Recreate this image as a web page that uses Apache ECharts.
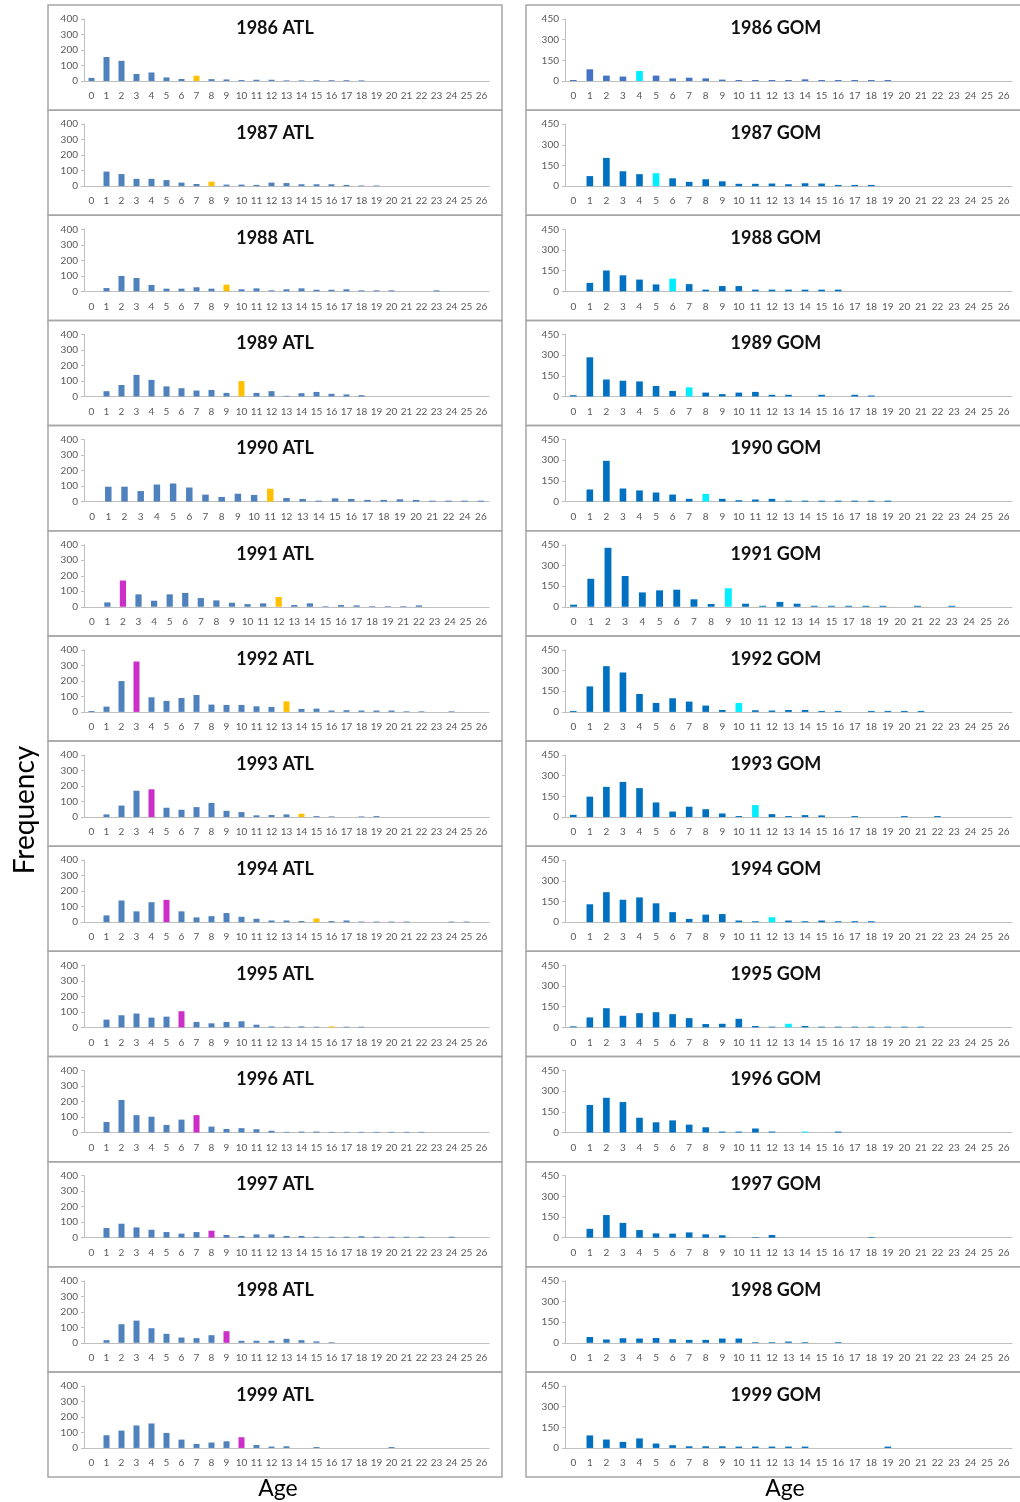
<!DOCTYPE html>
<html>
<head>
<meta charset="utf-8">
<title>Age frequency, ATL and GOM, 1986-1999</title>
<script src="https://cdn.jsdelivr.net/npm/echarts@6/dist/echarts.min.js"></script>
<style>
  html, body { margin: 0; padding: 0; background: #fff; }
  #chart { width: 1020px; height: 1502px; }
</style>
</head>
<body>
<div id="chart"></div>
<script>
// age categories (x axis tick labels)
const ages = ["0","1","2","3","4","5","6","7","8","9","10","11","12","13","14","15","16","17","18","19","20","21","22","23","24","25","26"]
// a few panels skip an age on their axis
const ages1990Atl = ["0","1","2","3","4","5","6","7","8","9","10","11","12","13","14","15","16","17","18","19","20","21","22","24","26"]
const ages1991Atl = ["0","1","2","3","4","5","6","7","8","9","10","11","12","13","14","15","16","17","18","19","21","22","23","24","25","26"]
const ages1991Gom = ["0","1","2","3","4","5","6","7","8","9","10","11","12","13","14","15","17","18","19","20","21","22","23","24","25","26"]

const years = [1986, 1987, 1988, 1989, 1990, 1991, 1992, 1993, 1994, 1995, 1996, 1997, 1998, 1999]

// ATL frequencies by age
const atl1986 = [20,155,130,45,55,23,13,34,12,10,6,8,8,4,4,5,5,5,4,0,0,0,0,0,0,0,0]
const atl1987 = [0,94,78,47,47,39,23,14,29,10,10,8,23,20,12,12,12,8,4,4,0,0,0,0,0,0,0]
const atl1988 = [0,21,99,86,41,17,17,26,17,43,13,19,6,13,19,10,10,13,6,6,6,0,0,6,0,0,0]
const atl1989 = [0,34,74,139,107,65,53,38,42,23,99,23,34,4,21,29,17,13,8,0,0,0,0,0,0,0,0]
const atl1990 = [0,96,96,68,110,117,91,45,30,51,43,83,23,17,6,21,17,11,11,15,11,6,6,6,6]
const atl1991 = [0,28,169,80,39,80,89,56,41,26,17,22,63,11,22,4,11,9,4,4,4,9,0,0,0,0]
const atl1992 = [6,34,199,325,94,71,90,109,47,45,45,36,32,68,19,21,9,11,9,9,9,4,4,0,4,0,0]
const atl1993 = [0,17,74,170,179,60,47,64,91,40,32,11,13,17,21,6,4,0,4,6,0,0,0,0,0,0,0]
const atl1994 = [0,44,140,70,129,144,70,31,39,59,35,22,11,11,7,24,7,11,4,4,4,4,0,0,4,4,0]
const atl1995 = [0,50,78,89,63,69,104,35,26,35,39,17,6,4,6,4,6,4,4,0,0,0,0,0,0,0,0]
const atl1996 = [0,68,210,112,102,49,83,112,38,23,28,21,11,4,6,6,4,4,4,4,4,4,4,0,0,0,0]
const atl1997 = [0,62,90,66,51,36,26,36,45,17,11,21,21,11,11,6,6,6,9,6,6,6,6,0,6,0,0]
const atl1998 = [0,17,120,143,94,58,34,30,49,75,13,13,13,26,17,9,4,0,0,0,0,0,0,0,0,0,0]
const atl1999 = [0,82,112,145,158,97,54,26,35,43,69,19,9,11,0,6,0,0,0,0,6,0,0,0,0,0,0]

// GOM frequencies by age
const gom1986 = [7,85,39,32,73,39,19,24,19,10,7,7,7,7,12,7,7,7,7,7,0,0,0,0,0,0,0]
const gom1987 = [0,73,205,108,87,94,57,31,50,35,17,17,19,14,21,19,9,9,9,0,0,0,0,0,0,0,0]
const gom1988 = [0,61,151,116,85,50,92,52,12,38,38,12,12,12,12,12,12,0,0,0,0,0,0,0,0,0,0]
const gom1989 = [9,284,123,114,109,76,40,66,28,17,28,33,12,12,0,12,0,12,7,0,0,0,0,0,0,0,0]
const gom1990 = [0,88,296,95,81,66,51,20,56,20,10,15,20,7,7,7,7,7,7,7,0,0,0,0,0,0,0]
const gom1991 = [15,203,428,223,104,119,124,54,20,134,22,7,35,22,7,7,7,7,7,0,7,0,7,0,0,0]
const gom1992 = [7,185,332,286,130,65,99,75,46,14,65,12,10,14,14,7,7,0,7,7,7,7,0,0,0,0,0]
const gom1993 = [16,148,219,255,210,106,40,75,57,26,7,87,21,7,14,12,0,7,0,0,7,0,7,0,0,0,0]
const gom1994 = [0,130,218,163,180,137,73,24,55,59,12,7,36,12,7,12,7,7,7,0,0,0,0,0,0,0,0]
const gom1995 = [7,72,139,84,103,110,96,67,24,26,62,10,5,26,10,5,5,5,5,5,5,5,0,0,0,0,0]
const gom1996 = [0,200,252,221,107,74,88,57,38,7,7,29,7,0,7,0,7,0,0,0,0,0,0,0,0,0,0]
const gom1997 = [0,64,164,107,55,31,29,38,24,17,0,4,19,0,0,0,0,0,4,0,0,0,0,0,0,0,0]
const gom1998 = [0,42,24,33,31,35,26,21,21,31,31,5,5,9,5,0,5,0,0,0,0,0,0,0,0,0,0]
const gom1999 = [0,91,61,44,69,32,20,12,12,12,10,10,10,10,10,0,0,0,0,10,0,0,0,0,0,0,0]

// highlighted cohort bars (age per year, null = none)
const atlOrangeAge = [7,8,9,10,11,12,13,14,15,16,null,null,null,null]
const atlMagentaAge = [null,null,null,null,null,2,3,4,5,6,7,8,9,10]
const gomCyanAge = [4,5,6,7,8,9,10,11,12,13,14,null,null,null]

const atlValues = [atl1986, atl1987, atl1988, atl1989, atl1990, atl1991, atl1992, atl1993, atl1994, atl1995, atl1996, atl1997, atl1998, atl1999]
const gomValues = [gom1986, gom1987, gom1988, gom1989, gom1990, gom1991, gom1992, gom1993, gom1994, gom1995, gom1996, gom1997, gom1998, gom1999]

const FONT = "Lato, 'Open Sans', sans-serif"
const ROW_TOP = 5
const ROW_H = 105.15
const AXIS_GRAY = "#BFBFBF"
const LABEL_GRAY = "#595959"

const COLS = [
  { name: "ATL", x: 48, w: 454, gridLeft: 84, gridWidth: 405, titleX: 275, max: 400, interval: 100 },
  { name: "GOM", x: 526, w: 500, gridLeft: 565, gridWidth: 447, titleX: 776, max: 450, interval: 150 }
]

const chart = echarts.init(document.getElementById("chart"))

const grid = []
const xAxis = []
const yAxis = []
const series = []
const graphic = []

function barItems (cats, vals, base, highlights) {
  return vals.map((v, i) => {
    let color = base
    highlights.forEach(h => {
      if (h.age !== null && cats[i] === String(h.age)) color = h.color
    })
    return { value: v, itemStyle: { color: color } }
  })
}

years.forEach((year, row) => {
  const top = ROW_TOP + row * ROW_H
  COLS.forEach((col, c) => {
    const idx = grid.length
    let cats = ages
    if (c === 0 && year === 1990) cats = ages1990Atl
    if (c === 0 && year === 1991) cats = ages1991Atl
    if (c === 1 && year === 1991) cats = ages1991Gom

    let base, highlights, vals
    if (c === 0) {
      base = "#4F81BD"
      vals = atlValues[row]
      highlights = [
        { age: atlOrangeAge[row], color: "#FFC000" },
        { age: atlMagentaAge[row], color: "#CC2FC9" }
      ]
    } else {
      base = year === 1986 ? "#4472C4" : "#0070C0"
      vals = gomValues[row]
      highlights = [{ age: gomCyanAge[row], color: "#00EEFF" }]
    }

    grid.push({ left: col.gridLeft, top: top + 14, width: col.gridWidth, height: 62 })
    xAxis.push({
      type: "category",
      gridIndex: idx,
      data: cats,
      axisLine: { lineStyle: { color: AXIS_GRAY, width: 1 } },
      axisTick: { length: 4, lineStyle: { color: AXIS_GRAY } },
      axisLabel: { interval: 0, color: LABEL_GRAY, fontSize: 10, margin: 10, fontFamily: FONT }
    })
    yAxis.push({
      type: "value",
      gridIndex: idx,
      min: 0,
      max: col.max,
      interval: col.interval,
      axisLine: { show: true, lineStyle: { color: AXIS_GRAY, width: 1 } },
      axisTick: { show: true, length: 3, lineStyle: { color: AXIS_GRAY } },
      splitLine: { show: false },
      axisLabel: { color: LABEL_GRAY, fontSize: 10, margin: 6, fontFamily: FONT }
    })
    series.push({
      type: "bar",
      name: year + " " + col.name,
      xAxisIndex: idx,
      yAxisIndex: idx,
      barWidth: "40%",
      data: barItems(cats, vals, base, highlights)
    })

    // panel frame
    graphic.push({
      type: "rect",
      silent: true,
      shape: { x: col.x, y: top, width: col.w, height: ROW_H },
      style: { fill: "none", stroke: "#A6A6A6", lineWidth: 1.5 }
    })
    // panel title
    graphic.push({
      type: "text",
      silent: true,
      x: col.titleX,
      y: top + 23,
      style: {
        text: year + " " + col.name,
        font: "bold 18px " + FONT,
        fill: "#111",
        align: "center",
        textAlign: "center",
        verticalAlign: "middle",
        textVerticalAlign: "middle"
      }
    })
  })
})

// shared axis names
graphic.push({
  type: "text",
  silent: true,
  x: 25,
  y: 810,
  rotation: Math.PI / 2,
  style: { text: "Frequency", font: "28px " + FONT, fill: "#000", align: "center", textAlign: "center", verticalAlign: "middle", textVerticalAlign: "middle" }
})
graphic.push({
  type: "text",
  silent: true,
  x: 278,
  y: 1489,
  style: { text: "Age", font: "23px " + FONT, fill: "#000", align: "center", textAlign: "center", verticalAlign: "middle", textVerticalAlign: "middle" }
})
graphic.push({
  type: "text",
  silent: true,
  x: 785,
  y: 1489,
  style: { text: "Age", font: "23px " + FONT, fill: "#000", align: "center", textAlign: "center", verticalAlign: "middle", textVerticalAlign: "middle" }
})

chart.setOption({
  animation: false,
  backgroundColor: "#fff",
  textStyle: { fontFamily: FONT },
  grid: grid,
  xAxis: xAxis,
  yAxis: yAxis,
  series: series,
  graphic: graphic
})
</script>
</body>
</html>
